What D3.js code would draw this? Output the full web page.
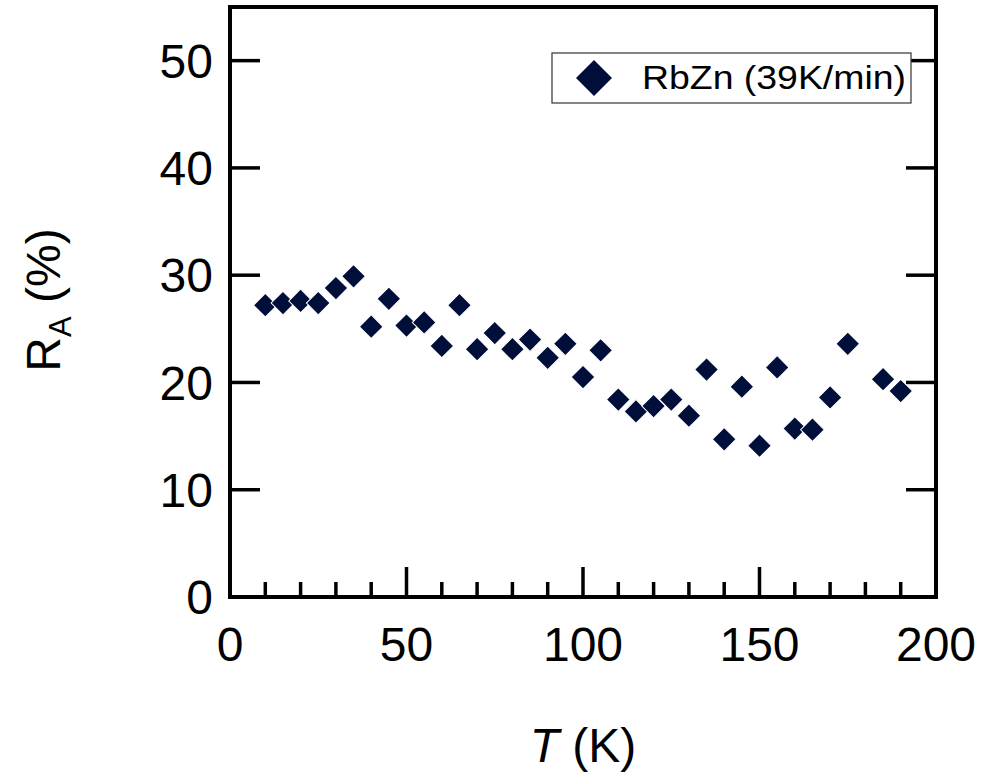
<!DOCTYPE html>
<html>
<head>
<meta charset="utf-8">
<script src="https://cdn.jsdelivr.net/npm/d3@7"></script>
<style>
  body { margin: 0; background: #fff; }
  svg { display: block; font-family: "Liberation Sans", Arial, sans-serif; }
</style>
</head>
<body>
<svg id="chart" width="1004" height="773"></svg>
<script>
// temperature (K) and R_A (%)
const temps = [10, 15, 20, 25, 30, 35, 40, 45, 50, 55, 60, 65, 70, 75, 80, 85, 90, 95,
  100, 105, 110, 115, 120, 125, 130, 135, 140, 145, 150, 155, 160, 165, 170, 175, 185, 190];
const ra = [27.2, 27.4, 27.6, 27.4, 28.8, 29.9, 25.2, 27.8, 25.3, 25.6, 23.4, 27.2, 23.1, 24.6,
  23.1, 24.0, 22.3, 23.6, 20.5, 23.0, 18.4, 17.3, 17.8, 18.4, 16.9, 21.2, 14.7, 19.6, 14.1,
  21.4, 15.7, 15.6, 18.6, 23.6, 20.3, 19.2];
const xTicks = [0, 50, 100, 150, 200];
const yTicks = [0, 10, 20, 30, 40, 50];
const seriesName = "RbZn (39K/min)";

const data = temps.map((t, i) => ({t, v: ra[i]}));

const margin = {top: 7, right: 68, bottom: 176, left: 230};
const width = 1004, height = 773;
const color = "#000f3a";
const fs = 48;

const svg = d3.select("#chart");

const x = d3.scaleLinear().domain([0, 200]).range([margin.left, width - margin.right]);
const y = d3.scaleLinear().domain([0, 55]).range([height - margin.bottom, margin.top]);

const x0 = x.range()[0], x1 = x.range()[1];
const y0 = y.range()[0], y1 = y.range()[1];

// frame
svg.append("rect")
    .attr("x", x0).attr("y", y1)
    .attr("width", x1 - x0).attr("height", y0 - y1)
    .attr("fill", "none")
    .attr("stroke", "#000")
    .attr("stroke-width", 4);

// x ticks: major every 50, minor every 10, pointing inward
const xMinor = d3.range(10, 200, 10).filter(d => d % 50 !== 0);
svg.append("g").selectAll("line")
  .data(xMinor)
  .join("line")
    .attr("x1", d => x(d)).attr("x2", d => x(d))
    .attr("y1", y0).attr("y2", y0 - 15)
    .attr("stroke", "#000").attr("stroke-width", 3.5);
svg.append("g").selectAll("line")
  .data(xTicks.slice(1, -1))
  .join("line")
    .attr("x1", d => x(d)).attr("x2", d => x(d))
    .attr("y1", y0).attr("y2", y0 - 30)
    .attr("stroke", "#000").attr("stroke-width", 3.5);

// y ticks on left and right
const yg = svg.append("g");
yg.selectAll("line.l")
  .data(yTicks.slice(1))
  .join("line")
    .attr("class", "l")
    .attr("x1", x0).attr("x2", x0 + 30)
    .attr("y1", d => y(d)).attr("y2", d => y(d))
    .attr("stroke", "#000").attr("stroke-width", 3.5);
yg.selectAll("line.r")
  .data(yTicks.slice(1))
  .join("line")
    .attr("class", "r")
    .attr("x1", x1).attr("x2", x1 - 30)
    .attr("y1", d => y(d)).attr("y2", d => y(d))
    .attr("stroke", "#000").attr("stroke-width", 3.5);

// tick labels
svg.append("g").selectAll("text")
  .data(xTicks)
  .join("text")
    .attr("x", d => x(d))
    .attr("y", 661)
    .attr("text-anchor", "middle")
    .attr("font-size", fs)
    .text(d => d);

svg.append("g").selectAll("text")
  .data(yTicks)
  .join("text")
    .attr("x", x0 - 17)
    .attr("y", d => y(d))
    .attr("dy", "0.36em")
    .attr("text-anchor", "end")
    .attr("font-size", fs)
    .text(d => d);

// axis titles
const xt = svg.append("text")
    .attr("x", (x0 + x1) / 2)
    .attr("y", 762)
    .attr("text-anchor", "middle")
    .attr("font-size", fs);
xt.append("tspan").attr("font-style", "italic").text("T");
xt.append("tspan").text(" (K)");

const yt = svg.append("text")
    .attr("transform", "translate(60, 300) rotate(-90)")
    .attr("text-anchor", "middle")
    .attr("font-size", fs);
yt.append("tspan").text("R");
yt.append("tspan").attr("font-size", 31).attr("dy", 11).text("A");
yt.append("tspan").attr("dy", -11).text(" (%)");

// points
const diamond = d3.symbol().type(d3.symbolSquare).size(280);
svg.append("g").selectAll("path")
  .data(data)
  .join("path")
    .attr("transform", d => `translate(${x(d.t)},${y(d.v)}) rotate(45)`)
    .attr("d", diamond)
    .attr("fill", color)
    .attr("stroke", "#fff")
    .attr("stroke-width", 1);

// legend
const lg = svg.append("g");
lg.append("rect")
    .attr("x", 552).attr("y", 53)
    .attr("width", 359).attr("height", 50)
    .attr("fill", "#fff")
    .attr("stroke", "#333")
    .attr("stroke-width", 1.2);
lg.append("path")
    .attr("transform", "translate(594,78) rotate(45)")
    .attr("d", d3.symbol().type(d3.symbolSquare).size(650))
    .attr("fill", color);
lg.append("text")
    .attr("x", 642).attr("y", 89)
    .attr("font-size", 34)
    .attr("textLength", 264)
    .attr("lengthAdjust", "spacingAndGlyphs")
    .text(seriesName);
</script>
</body>
</html>
